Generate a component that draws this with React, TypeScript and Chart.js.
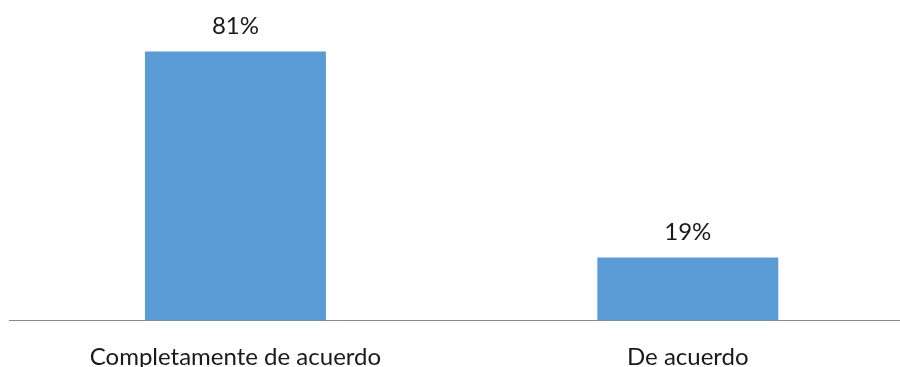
import React, { useEffect, useRef } from "react";
import { Chart, registerables } from "chart.js";

Chart.register(...registerables);

const categories = ["Completamente de acuerdo", "De acuerdo"];
const values = [0.81, 0.19];
const valueLabels = ["81%", "19%"];

const FONT = "Lato, 'Open Sans', sans-serif";

const dataLabelPlugin = {
  id: "dataLabels",
  afterDatasetsDraw(chart: any) {
    const ctx = chart.ctx;
    const meta = chart.getDatasetMeta(0);
    ctx.save();
    ctx.font = `24px ${FONT}`;
    ctx.fillStyle = "#1a1a1a";
    ctx.textAlign = "center";
    ctx.textBaseline = "alphabetic";
    meta.data.forEach((bar: any, i: number) => {
      ctx.fillText(valueLabels[i], bar.x, bar.y - 17.5);
    });
    ctx.restore();
  },
};

export default function App() {
  const ref = useRef<HTMLCanvasElement | null>(null);
  useEffect(() => {
    if (!ref.current) return;
    const chart = new Chart(ref.current, {
      type: "bar",
      data: {
        labels: categories,
        datasets: [
          {
            data: values,
            backgroundColor: "#5B9BD5",
            borderWidth: 0,
            categoryPercentage: 1,
            barPercentage: 0.4,
          },
        ],
      },
      options: {
        animation: false,
        responsive: false,
        maintainAspectRatio: false,
        layout: { padding: { top: 21.5, left: 9.25, right: 1, bottom: 0 } },
        plugins: { legend: { display: false }, tooltip: { enabled: false } },
        scales: {
          x: {
            grid: { display: false, drawTicks: false },
            border: { display: true, color: "#898989", width: 1 },
            ticks: {
              padding: 25,
              color: "#1a1a1a",
              font: { family: FONT, size: 24, lineHeight: 1 },
              maxRotation: 0,
              autoSkip: false,
            },
            afterFit(scale: any) {
              scale.height = 46.5;
            },
          },
          y: {
            display: false,
            min: 0,
            max: 0.9,
          },
        },
      },
      plugins: [dataLabelPlugin],
    });
    return () => chart.destroy();
  }, []);
  return (
    <div
      style={{
        position: "fixed",
        left: 0,
        top: 0,
        width: 900,
        height: 367,
        overflow: "hidden",
        background: "#fff",
      }}
    >
      <canvas ref={ref} width={915} height={367} style={{ display: "block" }} />
    </div>
  );
}
